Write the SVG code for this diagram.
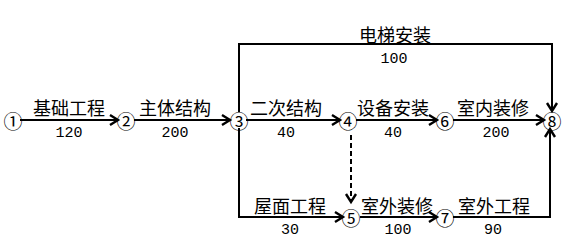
<svg xmlns="http://www.w3.org/2000/svg" width="573" height="249" viewBox="0 0 573 249">
<style>
.n{font-family:"Noto Sans CJK SC",sans-serif;font-size:19px;fill:#000;text-anchor:middle;dominant-baseline:central}
.l{font-family:"Noto Sans CJK SC",sans-serif;font-size:18px;fill:#000;text-anchor:middle}
.d{font-family:"Liberation Mono",monospace;font-size:15px;fill:#000;text-anchor:middle}
.c{fill:none;stroke:#000;stroke-width:2}
</style>
<defs>
<marker id="a" markerUnits="userSpaceOnUse" markerWidth="14" markerHeight="14" viewBox="-10 -7 12 14" refX="0" refY="0" orient="auto">
<path d="M-8,-5 L0,0 L-8,5" fill="none" stroke="#000" stroke-width="2.4"/>
</marker>
</defs>
<rect width="573" height="249" fill="#fff"/>
<g id="connectors">
<path class="c" d="M20,120 H118" marker-end="url(#a)"/>
<path class="c" d="M134,120 H230" marker-end="url(#a)"/>
<path class="c" d="M246,120 H340" marker-end="url(#a)"/>
<path class="c" d="M356,120 H437" marker-end="url(#a)"/>
<path class="c" d="M453,120 H544" marker-end="url(#a)"/>
<path class="c" d="M239,112 V44 H552 V111" marker-end="url(#a)"/>
<path class="c" d="M239,128 V217 H343" marker-end="url(#a)"/>
<path class="c" d="M351,135 V202" stroke-dasharray="5,3" marker-end="url(#a)"/>
<path class="c" d="M360,217 H437" marker-end="url(#a)"/>
<path class="c" d="M453,217 H550 V129" marker-end="url(#a)"/>
</g>
<g id="labels">
<text class="l" x="69" y="115">基础工程</text><text class="d" x="69" y="137">120</text>
<text class="l" x="175" y="115">主体结构</text><text class="d" x="175" y="137">200</text>
<text class="l" x="286" y="115">二次结构</text><text class="d" x="286" y="137">40</text>
<text class="l" x="393" y="115">设备安装</text><text class="d" x="393" y="137">40</text>
<text class="l" x="493" y="115">室内装修</text><text class="d" x="496" y="137">200</text>
<text class="l" x="395" y="42">电梯安装</text><text class="d" x="394" y="63">100</text>
<text class="l" x="290" y="213">屋面工程</text><text class="d" x="290" y="234">30</text>
<text class="l" x="397" y="213">室外装修</text><text class="d" x="398" y="234">100</text>
<text class="l" x="494" y="213">室外工程</text><text class="d" x="493" y="234">90</text>
</g>
<g id="node1"><text class="n" x="13" y="120">①</text></g>
<g id="node2"><text class="n" x="126" y="120">②</text></g>
<g id="node3"><text class="n" x="239" y="120">③</text></g>
<g id="node4"><text class="n" x="348" y="120">④</text></g>
<g id="node6"><text class="n" x="445" y="120">⑥</text></g>
<g id="node8"><text class="n" x="552" y="120">⑧</text></g>
<g id="node5"><text class="n" x="351" y="217">⑤</text></g>
<g id="node7"><text class="n" x="445" y="217">⑦</text></g>
</svg>
